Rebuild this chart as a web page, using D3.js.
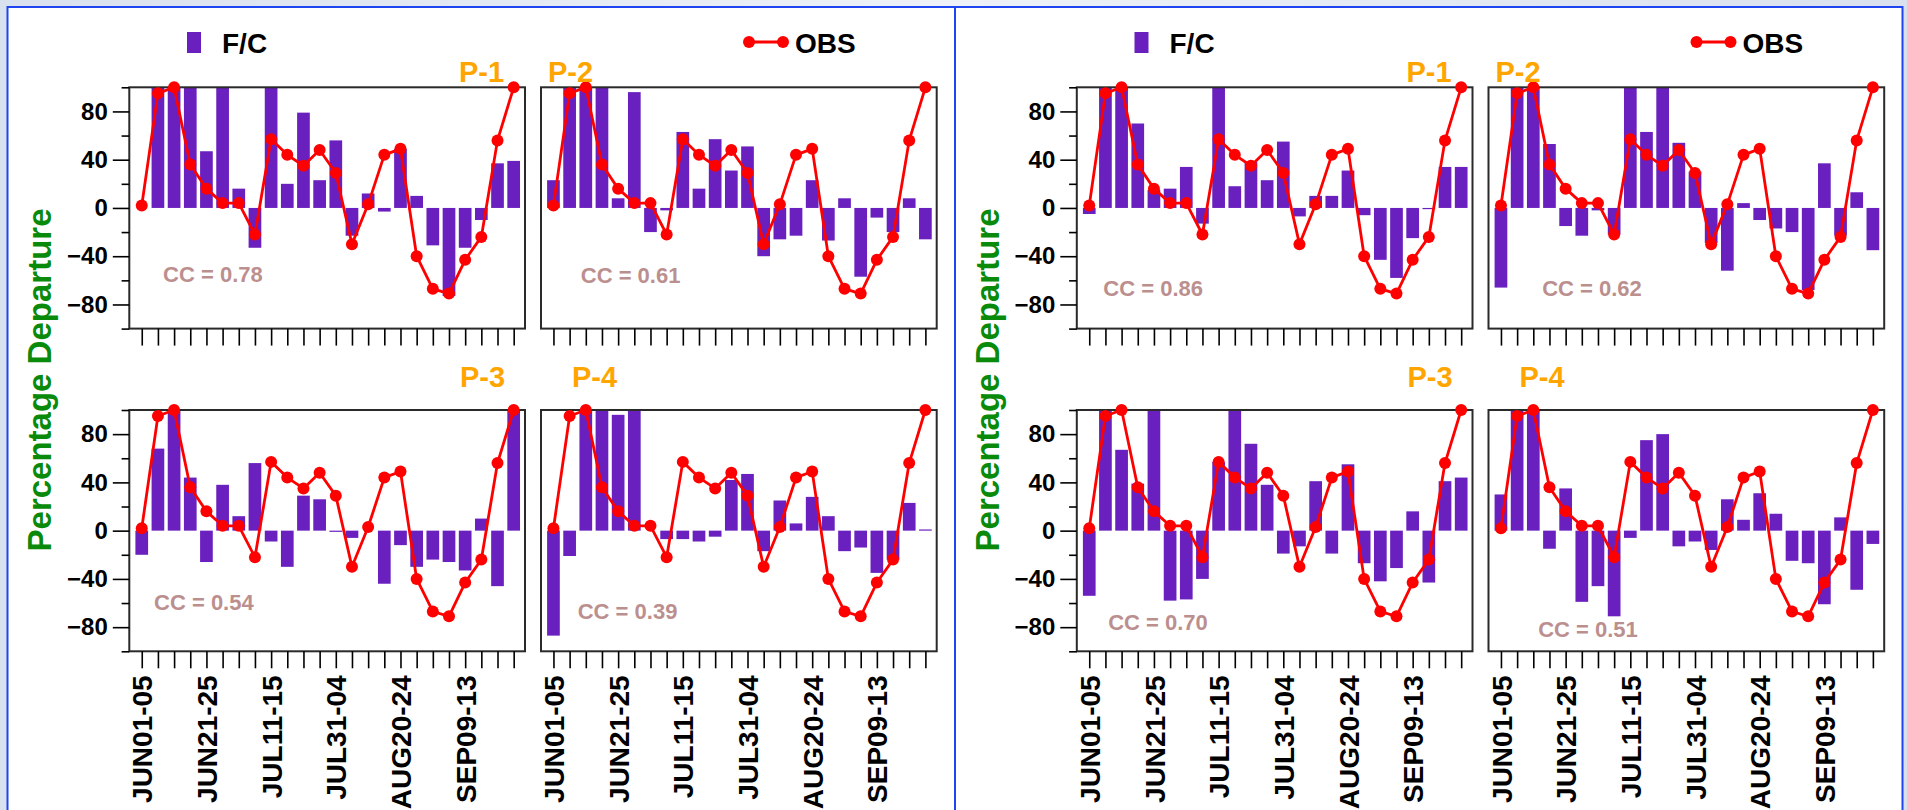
<!DOCTYPE html>
<html><head><meta charset="utf-8">
<script src="https://cdn.jsdelivr.net/npm/d3@7/dist/d3.min.js"></script>
<style>
body{margin:0;background:#dfe6f1;overflow:hidden}
svg{display:block}
text{font-family:"Liberation Sans",Arial,sans-serif;font-weight:bold}
</style>
</head><body>
<svg id="c" width="1907" height="810"></svg>
<script>
// ---------- DATA ----------
const categories = ["JUN01-05","JUN06-10","JUN11-15","JUN16-20","JUN21-25","JUN26-30",
  "JUL01-05","JUL06-10","JUL11-15","JUL16-20","JUL21-25","JUL26-30",
  "JUL31-04","AUG05-09","AUG10-14","AUG15-19","AUG20-24","AUG25-29",
  "AUG30-03","SEP04-08","SEP09-13","SEP14-18","SEP19-23","SEP24-28"];
const tickLabels = ["JUN01-05","JUN21-25","JUL11-15","JUL31-04","AUG20-24","SEP09-13"];
const yTicks = [-80,-40,0,40,80];
const yMinorTicks = [-100,-60,-20,20,60,100];
const panelNames = ["P-1","P-2","P-3","P-4"];

const obs = [2,95,100,36,16,4,4,-22,57,44,35,48,29,-30,3,44,49,-40,-67,-71,-43,-24,56,100];

// left figure
const fcA_P1 = [0,100,100,100,47,100,16,-33,100,20,79,23,56,-23,12,-3,49,10,-31,-73,-33,-10,37,39];
const fcA_P2 = [23,100,100,100,8,96,-20,-2,63,16,57,31,51,-40,-26,-23,23,-27,8,-57,-8,-20,8,-26];
const fcA_P3 = [-20,68,100,44,-26,38,12,56,-9,-30,29,26,-1,-6,0,-44,-12,-30,-24,-26,-33,10,-46,100];
const fcA_P4 = [-87,-21,100,100,96,100,0,-7,-7,-9,-5,42,47,-17,25,6,28,12,-17,-14,-35,-24,23,1];
const ccA = ["0.78","0.61","0.54","0.39"];

// right figure
const fcB_P1 = [-5,100,100,70,15,16,34,-13,100,18,38,23,55,-7,10,10,31,-6,-43,-58,-25,-1,34,34];
const fcB_P2 = [-66,100,100,53,-15,-23,-2,-22,100,63,100,54,30,-29,-52,4,-10,-17,-20,-68,37,-23,13,-35];
const fcB_P3 = [-54,100,67,39,100,-58,-57,-40,57,100,72,38,-19,-13,41,-19,55,-27,-42,-31,16,-43,41,44];
const fcB_P4 = [30,100,100,-15,35,-59,-46,-71,-6,75,80,-13,-9,-16,26,9,31,14,-25,-27,-61,11,-49,-11];
const ccB = ["0.86","0.62","0.70","0.51"];

// ---------- LAYOUT ----------
const svg = d3.select("#c");
const W = 395.7, H = 241.3;
const x = d3.scaleLinear().domain([-0.77, 23.7]).range([0, W]);
const y = d3.scaleLinear().domain([-100, 100]).range([H, 0]);
const barW = 12.7;
const BAR = "#6a20bf", RED = "#ff0000";
const FONT = '"Liberation Sans",Arial,sans-serif';

const figures = [
  {dx: 0, fc: [fcA_P1, fcA_P2, fcA_P3, fcA_P4], cc: ccA,
   ccAt: [[1.32,-61],[1.69,-62],[0.76,-66],[1.5,-73]]},
  {dx: 947.5, fc: [fcB_P1, fcB_P2, fcB_P3, fcB_P4], cc: ccB,
   ccAt: [[0.87,-72.6],[2.55,-72.6],[1.17,-82],[2.3,-88]]}
];
const subOrigins = [[129.3, 87.3],[541, 87.3],[129.3, 410],[541, 410]];
const pLabelAt = [[459, 82],[548, 82],[460, 387],[572, 387]];

const defs = svg.append("defs");
const grad = defs.append("linearGradient").attr("id","bg").attr("x1","0").attr("x2","1");
grad.append("stop").attr("offset","0").attr("stop-color","#d9e1ee");
grad.append("stop").attr("offset","0.5").attr("stop-color","#eef2f8");
grad.append("stop").attr("offset","1").attr("stop-color","#d9e1ee");
svg.append("rect").attr("width",1907).attr("height",810).attr("fill","url(#bg)");

figures.forEach((fig, fi) => {
  const G = svg.append("g").attr("transform", `translate(${fig.dx},0)`);
  G.append("rect").attr("x", 7.5).attr("y", 7).attr("width", 947.5).attr("height", 820)
    .attr("fill", "#fff").attr("stroke", "#1f45f0").attr("stroke-width", 2);

  // legend
  G.append("rect").attr("x", 187).attr("y", 32).attr("width", 14).attr("height", 21).attr("fill", BAR);
  G.append("text").attr("x", 222).attr("y", 52.5).attr("font-size", 28).attr("fill", "#000").text("F/C");
  G.append("line").attr("x1", 749).attr("x2", 783).attr("y1", 42).attr("y2", 42)
    .attr("stroke", RED).attr("stroke-width", 2.8);
  G.selectAll("circle.lg").data([749, 783]).join("circle").attr("class","lg")
    .attr("cx", d => d).attr("cy", 42).attr("r", 6).attr("fill", RED);
  G.append("text").attr("x", 795).attr("y", 52.5).attr("font-size", 28).attr("fill", "#000").text("OBS");

  // y title
  G.append("text").attr("transform", "translate(51,380) rotate(-90)")
    .attr("text-anchor", "middle").attr("font-size", 33).attr("fill", "#0a8a0a")
    .text("Percentage Departure");

  fig.fc.forEach((vals, pi) => {
    const [ox, oy] = subOrigins[pi];
    const g = G.append("g").attr("transform", `translate(${ox},${oy})`);
    const clipId = `clip${fi}_${pi}`;
    defs.append("clipPath").attr("id", clipId).append("rect").attr("width", W).attr("height", H);

    g.append("rect").attr("width", W).attr("height", H).attr("fill", "#fff");

    g.append("g").attr("clip-path", `url(#${clipId})`)
      .selectAll("rect").data(vals).join("rect")
      .attr("x", (d, i) => x(i) - barW / 2)
      .attr("width", barW)
      .attr("y", d => y(Math.max(0, d)))
      .attr("height", d => Math.abs(y(d) - y(0)))
      .attr("fill", BAR);

    g.append("rect").attr("width", W).attr("height", H).attr("fill", "none")
      .attr("stroke", "#2a2a2a").attr("stroke-width", 2);

    if (pi % 2 === 0) {
      const ya = g.append("g").call(d3.axisLeft(y).tickValues(yTicks).tickSize(16.5).tickPadding(5)
        .tickFormat(d3.format("d")));
      ya.select(".domain").remove();
      ya.selectAll("line").attr("stroke", "#000").attr("stroke-width", 1.6);
      ya.selectAll("text").attr("font-size", 24).attr("fill", "#000")
        .style("font-family", FONT).style("font-weight", "bold");
      const ym = g.append("g").call(d3.axisLeft(y).tickValues(yMinorTicks).tickSize(7.7).tickFormat(""));
      ym.select(".domain").remove();
      ym.selectAll("line").attr("stroke", "#000").attr("stroke-width", 1.6);
    }

    const bottomRow = pi >= 2;
    const xa = g.append("g").attr("transform", `translate(0,${H})`)
      .call(d3.axisBottom(x).tickValues(d3.range(categories.length)).tickSize(17)
        .tickFormat(i => (bottomRow && tickLabels.includes(categories[i])) ? categories[i] : ""));
    xa.select(".domain").remove();
    xa.selectAll("line").attr("stroke", "#000").attr("stroke-width", 1.6);
    xa.selectAll("text")
      .attr("transform", "rotate(-90)")
      .attr("text-anchor", "end")
      .attr("x", -24).attr("y", 0).attr("dy", "0.36em")
      .attr("font-size", 28).attr("fill", "#000")
      .style("font-family", FONT).style("font-weight", "bold");

    const line = d3.line().x((d, i) => x(i)).y(d => y(d));
    g.append("path").datum(obs).attr("d", line).attr("fill", "none")
      .attr("stroke", RED).attr("stroke-width", 2.8).attr("stroke-linejoin", "round");
    g.selectAll("circle.obs").data(obs).join("circle").attr("class", "obs")
      .attr("cx", (d, i) => x(i)).attr("cy", d => y(d)).attr("r", 6).attr("fill", RED);

    const [cx, cy] = fig.ccAt[pi];
    g.append("text").attr("x", x(cx)).attr("y", y(cy)).attr("font-size", 22)
      .attr("fill", "#bc8f8f").text(`CC = ${fig.cc[pi]}`);

    G.append("text").attr("x", pLabelAt[pi][0]).attr("y", pLabelAt[pi][1])
      .attr("font-size", 29).attr("fill", "#ffa500").text(panelNames[pi]);
  });
});
</script>
</body></html>
